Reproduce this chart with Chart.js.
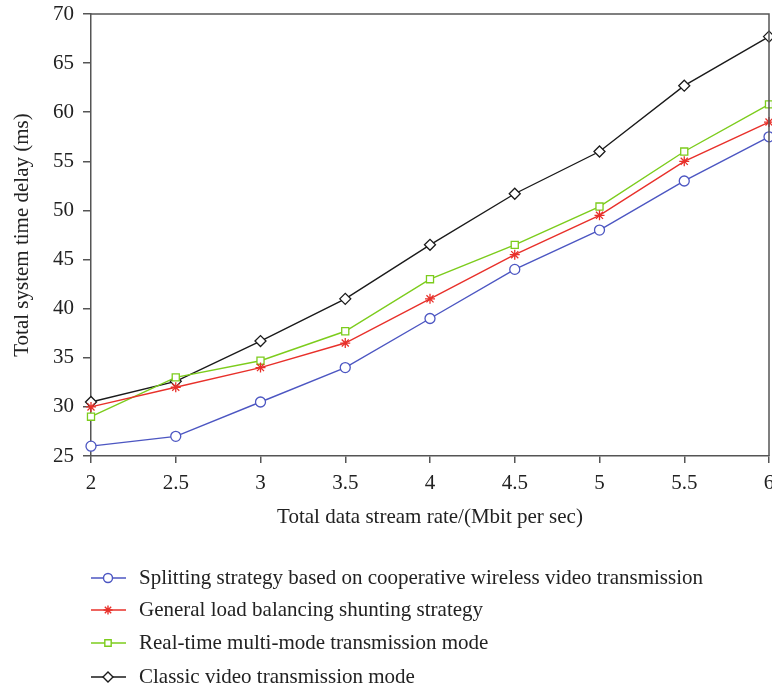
<!DOCTYPE html>
<html>
<head>
<meta charset="utf-8">
<script src="https://cdn.jsdelivr.net/npm/chart.js@4/dist/chart.umd.min.js"></script>
<style>
  html, body { margin: 0; padding: 0; background: #fff; }
  #wrap { width: 772px; height: 689px; position: relative; }
</style>
</head>
<body>
<div id="wrap"><canvas id="chart" width="772" height="689"></canvas></div>
<script>
// ── data ──
const rates = ['2', '2.5', '3', '3.5', '4', '4.5', '5', '5.5', '6'];
const splitting = [26, 27, 30.5, 34, 39, 44, 48, 53, 57.5];
const loadBalancing = [30, 32, 34, 36.5, 41, 45.5, 49.5, 55, 59];
const realTime = [29, 33, 34.7, 37.7, 43, 46.5, 50.4, 56, 60.8];
const classic = [30.5, 32.6, 36.7, 41, 46.5, 51.7, 56, 62.7, 67.7];
const seriesNames = [
  'Splitting strategy based on cooperative wireless video transmission',
  'General load balancing shunting strategy',
  'Real-time multi-mode transmission mode',
  'Classic video transmission mode'
];
const yTicks = { min: 25, max: 70, step: 5 };

const FONT = 'Liberation Serif';
const FSIZE = 21;
const AXIS = '#555';

function series(label, data, color, style, radius) {
  return {
    label, data,
    borderColor: color, backgroundColor: '#fff',
    pointBorderColor: color, pointBackgroundColor: '#fff',
    pointStyle: style, pointRadius: radius, pointBorderWidth: 1.3,
    borderWidth: 1.4, tension: 0, clip: false
  };
}

// frame on top + right, like the original box
const framePlugin = {
  id: 'frame',
  afterDraw(chart) {
    const { ctx, chartArea: a } = chart;
    ctx.save();
    ctx.strokeStyle = AXIS;
    ctx.lineWidth = 1.5;
    ctx.beginPath();
    ctx.moveTo(a.left, a.top);
    ctx.lineTo(a.right, a.top);
    ctx.lineTo(a.right, a.bottom);
    ctx.stroke();
    ctx.restore();
  }
};

// one-column legend under the x title
const legendPlugin = {
  id: 'colLegend',
  afterDraw(chart) {
    const ctx = chart.ctx;
    const rows = [578, 610, 643, 677];
    ctx.save();
    chart.data.datasets.forEach((ds, i) => {
      const y = rows[i];
      ctx.strokeStyle = ds.borderColor;
      ctx.lineWidth = ds.borderWidth;
      ctx.beginPath();
      ctx.moveTo(91, y);
      ctx.lineTo(126, y);
      ctx.stroke();
      ctx.fillStyle = '#fff';
      Chart.helpers.drawPoint(ctx, {
        pointStyle: ds.pointStyle, radius: ds.pointRadius - 0.5,
        rotation: 0, borderWidth: ds.pointBorderWidth
      }, 108, y);
      ctx.fillStyle = '#222';
      ctx.font = FSIZE + 'px "' + FONT + '"';
      ctx.textBaseline = 'middle';
      ctx.fillText(ds.label, 139, y);
    });
    ctx.restore();
  }
};

new Chart(document.getElementById('chart'), {
  type: 'line',
  data: {
    labels: rates,
    datasets: [
      series(seriesNames[0], splitting, '#4c56c2', 'circle', 5),
      series(seriesNames[1], loadBalancing, '#e8302a', 'star', 5),
      series(seriesNames[2], realTime, '#7ccc1c', 'rect', 5),
      series(seriesNames[3], classic, '#1a1a1a', 'rectRot', 5.5)
    ]
  },
  options: {
    responsive: false,
    animation: false,
    layout: { autoPadding: false, padding: { top: 14, right: 3, left: 10, bottom: 159 } },
    plugins: { legend: { display: false }, tooltip: { enabled: false } },
    scales: {
      x: {
        offset: false,
        grid: { drawOnChartArea: false, drawTicks: true, tickLength: 7, color: AXIS, lineWidth: 1.5 },
        border: { color: AXIS, width: 1.5 },
        ticks: { color: '#222', font: { family: FONT, size: FSIZE }, padding: 8, autoSkip: false, maxRotation: 0 },
        title: { display: true, text: 'Total data stream rate/(Mbit per sec)', color: '#222',
                 font: { family: FONT, size: FSIZE }, padding: 0 },
        afterFit(scale) {
          scale.height = 74;
          scale.paddingLeft = 0;
          scale.paddingRight = 0;
        }
      },
      y: {
        min: yTicks.min, max: yTicks.max,
        grid: { drawOnChartArea: false, drawTicks: true, tickLength: 8, color: AXIS, lineWidth: 1.5 },
        border: { color: AXIS, width: 1.5 },
        ticks: { stepSize: yTicks.step, color: '#222', font: { family: FONT, size: FSIZE }, padding: 9 },
        title: { display: true, text: 'Total system time delay (ms)', color: '#222',
                 font: { family: FONT, size: FSIZE }, padding: 0 },
        afterFit(scale) {
          scale.width = 81;
          scale.paddingTop = 0;
          scale.paddingBottom = 0;
        }
      }
    }
  },
  plugins: [framePlugin, legendPlugin]
});
</script>
</body>
</html>
